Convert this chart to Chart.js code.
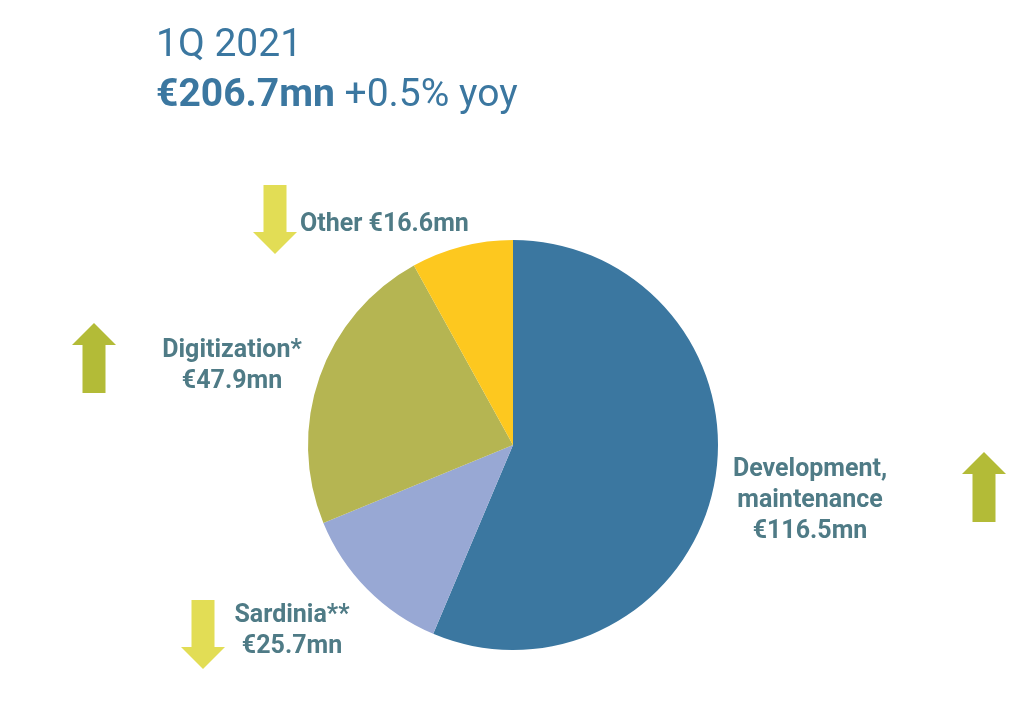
<!DOCTYPE html>
<html>
<head>
<meta charset="utf-8">
<script src="https://cdn.jsdelivr.net/npm/chart.js@4"></script>
<style>
  html,body{margin:0;padding:0;background:#fff;}
  #wrap{position:relative;width:1023px;height:709px;overflow:hidden;font-family:Roboto,"Open Sans",sans-serif;}
  #title{position:absolute;left:156px;top:18px;color:#3b77a0;font-size:39px;line-height:50px;}
  #title b{font-weight:700;}
  canvas{position:absolute;left:0;top:0;}
</style>
</head>
<body>
<div id="wrap">
  <canvas id="pie" width="1023" height="709"></canvas>
  <div id="title">1Q 2021<br><b>€206.7mn</b> +0.5% yoy</div>
</div>
<script>
// ====== dados ======
const categories = ['Development, maintenance', 'Sardinia**', 'Digitization*', 'Other'];
const values = [116.5, 25.7, 47.9, 16.6];
const trends = ['up', 'down', 'up', 'down'];
const sliceColors = ['#3b77a0', '#98a8d4', '#b5b552', '#fdc81f'];

// label text lines per slice
const labelLines = [
  ['Development,', 'maintenance', '€116.5mn'],
  ['Sardinia**', '€25.7mn'],
  ['Digitization*', '€47.9mn'],
  ['Other €16.6mn']
];

// ====== layout (pixels) ======
const labelPos = [
  {x: 810, y: 476, align: 'center'},
  {x: 292, y: 622, align: 'center'},
  {x: 232, y: 357, align: 'center'},
  {x: 300, y: 231, align: 'left'}
];
const arrowPos = [
  {cx: 984, top: 452, bottom: 522},
  {cx: 203, top: 600, bottom: 669},
  {cx: 94,  top: 323, bottom: 393},
  {cx: 275, top: 185, bottom: 254}
];
const upColor = '#b3bb37', downColor = '#e2dd55';
const labelColor = '#4f7b86';
const lineGap = 31;

function drawArrow(ctx, a, dir, color){
  const shaftHalf = 11.5, headHalf = 22, headLen = 22;
  ctx.save();
  ctx.fillStyle = color;
  ctx.beginPath();
  if (dir === 'up') {
    ctx.moveTo(a.cx, a.top);
    ctx.lineTo(a.cx + headHalf, a.top + headLen);
    ctx.lineTo(a.cx + shaftHalf, a.top + headLen);
    ctx.lineTo(a.cx + shaftHalf, a.bottom);
    ctx.lineTo(a.cx - shaftHalf, a.bottom);
    ctx.lineTo(a.cx - shaftHalf, a.top + headLen);
    ctx.lineTo(a.cx - headHalf, a.top + headLen);
  } else {
    ctx.moveTo(a.cx, a.bottom);
    ctx.lineTo(a.cx + headHalf, a.bottom - headLen);
    ctx.lineTo(a.cx + shaftHalf, a.bottom - headLen);
    ctx.lineTo(a.cx + shaftHalf, a.top);
    ctx.lineTo(a.cx - shaftHalf, a.top);
    ctx.lineTo(a.cx - shaftHalf, a.bottom - headLen);
    ctx.lineTo(a.cx - headHalf, a.bottom - headLen);
  }
  ctx.closePath();
  ctx.fill();
  ctx.restore();
}

const decorPlugin = {
  id: 'decor',
  afterDraw(chart){
    const ctx = chart.ctx;
    ctx.save();
    ctx.fillStyle = labelColor;
    ctx.font = 'bold 25px Roboto';
    ctx.textBaseline = 'alphabetic';
    labelLines.forEach((lines, i) => {
      const p = labelPos[i];
      ctx.textAlign = p.align;
      lines.forEach((t, j) => ctx.fillText(t, p.x, p.y + j * lineGap));
    });
    ctx.restore();
    trends.forEach((t, i) => drawArrow(ctx, arrowPos[i], t, t === 'up' ? upColor : downColor));
  }
};

new Chart(document.getElementById('pie'), {
  type: 'pie',
  data: {
    labels: categories,
    datasets: [{
      data: values,
      backgroundColor: sliceColors,
      borderWidth: 0
    }]
  },
  options: {
    responsive: false,
    animation: false,
    layout: { padding: { left: 308, top: 240, right: 305, bottom: 59 } },
    plugins: {
      legend: { display: false },
      tooltip: { enabled: false }
    }
  },
  plugins: [decorPlugin]
});
</script>
</body>
</html>
